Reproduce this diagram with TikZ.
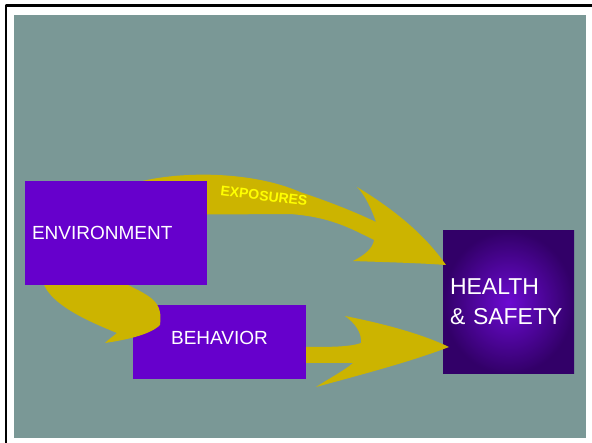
\documentclass[tikz,border=0pt]{standalone}
\usepackage{fontspec}
\setmainfont{Liberation Sans}
\usepackage{xcolor}
\usetikzlibrary{calc}
\definecolor{slidegray}{RGB}{122,152,150}
\definecolor{boxpurple}{RGB}{102,0,204}
\definecolor{darkpurple}{RGB}{50,0,104}
\definecolor{midpurple}{RGB}{108,10,210}
\definecolor{arrowgold}{RGB}{204,180,0}
\definecolor{labelyellow}{RGB}{255,255,0}
\tikzset{
  box/.style={rectangle,fill=boxpurple,text=white,inner sep=0pt},
  bigarrow/.style={fill=arrowgold,draw=none}
}

\begin{document}
\begin{tikzpicture}[line cap=round,line join=round,x=1pt,y=-1pt]
\useasboundingbox (0,0) rectangle (592,443);
\fill[white] (0,0) rectangle (592,443);
\draw [line width=2.5pt,line cap=butt] (6,443)-- (6,5.5)-- (592,5.5);
\fill[slidegray] (14,15) rectangle (586,438);
% health and safety
\node[box,shade,inner color=midpurple,outer color=darkpurple,
      minimum width=131,minimum height=143,text width=117,align=left,text depth=31pt,
      font=\fontsize{23}{30}\selectfont] (hs) at (508.5,302.5) {HEALTH\\\& SAFETY};
% arrow behavior -> health
\fill[bigarrow] (290,347)-- (306,347) .. controls (330,347) and (350,347) .. (361,343)
    .. controls (362,333) and (355,323) .. (345,316)
    .. controls (380,323) and (420,333) .. (449,347)
    .. controls (410,362) and (360,375) .. (316,387)
    .. controls (330,378) and (345,370) .. (353,363)
    -- (290,363) -- cycle;
\node[box,minimum width=173,minimum height=74,text depth=9pt,
      font=\fontsize{19}{23}\selectfont] (beh) at (219.5,342) {BEHAVIOR};
% arrow environment -> behavior
\fill[bigarrow] (43,270)-- (43,282) .. controls (50,305) and (90,322) .. (117,333)
    .. controls (112,337) and (108,340) .. (105,343)
    .. controls (125,340) and (150,335) .. (160,325)
    .. controls (163,302) and (152,297) .. (128,285)
    -- (128,270) -- cycle;
% exposures arrow
\fill[bigarrow] (125,215)-- (125,186) .. controls (170,170) and (250,170) .. (300,192)
    .. controls (330,202) and (355,212) .. (376,222)
    .. controls (372,210) and (365,195) .. (357,187)
    .. controls (395,210) and (425,235) .. (446,265)
    .. controls (420,263) and (380,262) .. (353,261)
    .. controls (365,255) and (373,248) .. (374,240)
    .. controls (350,228) and (330,217) .. (290,214)
    -- cycle;
\node[text=labelyellow,rotate=-7,font=\fontsize{14}{16}\selectfont\bfseries] (expo) at (264,196) {EXPOSURES};
\node[box,minimum width=182,minimum height=104,text width=168,align=left,
      font=\fontsize{19}{23}\selectfont] (env) at (116,233) {ENVIRONMENT};
\end{tikzpicture}
\end{document}
